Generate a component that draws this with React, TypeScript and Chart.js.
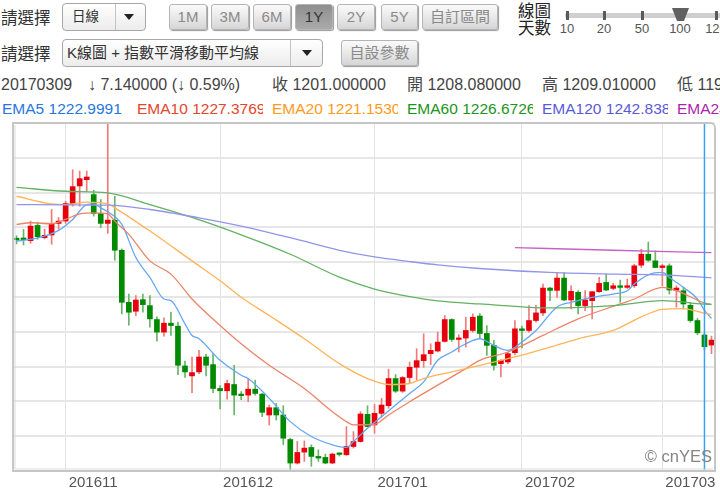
import React, { useEffect, useRef } from 'react';
import { Chart, registerables } from 'chart.js';
Chart.register(...registerables);

const FONT = '"Liberation Sans", Arial, "Noto Sans CJK TC", sans-serif';

// ---- categories (trading days) ----
const OCT_DAYS = ['21', '24', '25', '26', '27', '28', '31'];
const NOV_DAYS = ['01', '02', '03', '04', '07', '08', '09', '10', '11', '14', '15', '16', '17', '18', '21', '22', '23', '24', '25', '28', '29', '30'];
const DEC_DAYS = ['01', '02', '05', '06', '07', '08', '09', '12', '13', '14', '15', '16', '19', '20', '21', '22', '23', '26', '27', '28', '29', '30'];
const JAN_DAYS = ['03', '04', '05', '06', '09', '10', '11', '12', '13', '16', '17', '18', '19', '20', '23', '24', '25', '26', '27', '30', '31'];
const FEB_DAYS = ['01', '02', '03', '06', '07', '08', '09', '10', '13', '14', '15', '16', '17', '20', '21', '22', '23', '24', '27', '28'];
const MAR_DAYS = ['01', '02', '03', '06', '07', '08', '09', '10'];
const DATES = [
  ...OCT_DAYS.map((d) => '201610' + d),
  ...NOV_DAYS.map((d) => '201611' + d),
  ...DEC_DAYS.map((d) => '201612' + d),
  ...JAN_DAYS.map((d) => '201701' + d),
  ...FEB_DAYS.map((d) => '201702' + d),
  ...MAR_DAYS.map((d) => '201703' + d),
];
const MONTH_TICKS = [7, 29, 51, 72, 92];
const CROSS_IDX = 98;
const Y_MIN = 1126;
const Y_MAX = 1336;
const Y_GRID = [1126, 1147, 1168, 1189, 1210, 1231, 1252, 1273, 1294, 1315, 1336];

// ---- candles ----
const OPEN = [
  1266, 1266.6, 1265, 1274.2, 1266.8, 1268.4, 1275.4, 1276.8, 1287.4, 1298,
  1301.8, 1292.8, 1281.4, 1275.4, 1277.4, 1259.2, 1227.8, 1222.4, 1229.4, 1225.8,
  1217.4, 1209.8, 1215.2, 1213.4, 1189.4, 1183.4, 1185.8, 1194.8, 1190.2, 1175.8,
  1174.4, 1178.2, 1172, 1171.8, 1175.4, 1172.4, 1159.8, 1164.2, 1159.8, 1145,
  1130.8, 1137.4, 1140.2, 1134.8, 1134.2, 1130.8, 1136.4, 1135.8, 1140.8, 1143.8,
  1160.2, 1153.8, 1160.8, 1165.4, 1181.8, 1174.2, 1182.4, 1188.6, 1192.6, 1196.8,
  1198.4, 1204.2, 1217.4, 1205.4, 1206.2, 1210.8, 1219.5, 1209, 1201.8, 1190.8,
  1191.8, 1197.4, 1211.8, 1210.8, 1216.8, 1221.4, 1236.4, 1235, 1242.4, 1229.2,
  1233.8, 1225.8, 1228.8, 1234.2, 1239.8, 1236.2, 1237.8, 1236.8, 1237.8, 1250.2,
  1256.8, 1252.8, 1248.8, 1249.8, 1235, 1234.8, 1226, 1216.8, 1208.08, 1202,
];
const HIGH = [
  1268, 1271.8, 1276.8, 1276.2, 1272, 1283.8, 1279, 1288.8, 1307.8, 1307,
  1307, 1295.4, 1289.8, 1340, 1291.8, 1260, 1232.8, 1231.8, 1232.8, 1231.8,
  1219, 1218.4, 1221.8, 1215.8, 1192.4, 1194.8, 1198.8, 1196.4, 1196.8, 1177.6,
  1180.8, 1189.8, 1174, 1181.8, 1180.8, 1172.8, 1165.8, 1166.8, 1165.4, 1145.8,
  1143.8, 1144.2, 1141.8, 1138.8, 1136.2, 1136.8, 1137, 1152.8, 1149.8, 1161.8,
  1165.4, 1166.2, 1169.8, 1187.4, 1184.2, 1183, 1191.8, 1199.8, 1208.8, 1202.8,
  1209.8, 1219.8, 1217.8, 1208.2, 1218.8, 1220.8, 1221, 1213.8, 1204.8, 1193.2,
  1197.8, 1216.8, 1213.4, 1225.8, 1226, 1238.8, 1236.8, 1245.8, 1245.8, 1237.8,
  1234.8, 1234.8, 1234.2, 1242.8, 1244.8, 1239.2, 1241.2, 1241.8, 1250.8, 1259.8,
  1264.2, 1258.8, 1250.8, 1251, 1237.8, 1236.8, 1227.8, 1218.2, 1209.01, 1207.4,
];
const LOW = [
  1263, 1262.4, 1263.4, 1265.8, 1266, 1262.8, 1271.8, 1275.4, 1285.8, 1285.8,
  1294.8, 1279.8, 1272.8, 1269.4, 1253.2, 1220.8, 1214, 1219.8, 1221.8, 1212.8,
  1204.4, 1207.4, 1207.8, 1184.2, 1182.4, 1173.2, 1184.8, 1183.4, 1173.2, 1163.4,
  1169.4, 1159.8, 1169, 1167.8, 1171.8, 1158.8, 1153.8, 1156.8, 1141.8, 1125.8,
  1130.2, 1131.8, 1128.8, 1131.8, 1130.4, 1130.4, 1135, 1135.4, 1139.8, 1143.4,
  1152.8, 1148.8, 1158.4, 1163.8, 1173.4, 1173.4, 1178.8, 1180.8, 1188.6, 1190.2,
  1197.8, 1203.8, 1204.2, 1197.8, 1200.8, 1209.8, 1206, 1195.8, 1186.8, 1182.8,
  1190.8, 1196, 1200.2, 1209.8, 1215.8, 1219.8, 1228.8, 1230.8, 1228.8, 1223.8,
  1220.8, 1222.8, 1217.8, 1233.8, 1234.8, 1235.4, 1227.8, 1236.2, 1236.8, 1248.8,
  1252.4, 1248.8, 1237.8, 1232.8, 1224.8, 1223.8, 1215.8, 1208.2, 1199, 1196.8,
];
const CLOSE = [
  1265.6, 1265.6, 1273.8, 1267.4, 1268.2, 1275.4, 1276.8, 1287.4, 1297.6, 1302.4,
  1303.4, 1281.4, 1275.4, 1277.4, 1259.2, 1227.8, 1221.8, 1229.2, 1226.4, 1217.8,
  1209.8, 1215.2, 1213.8, 1189.8, 1185.8, 1185.4, 1194.8, 1189.8, 1175.8, 1174.4,
  1178.8, 1171.8, 1171.5, 1175.4, 1172.8, 1161.4, 1164.2, 1159.8, 1145.8, 1130.8,
  1137.2, 1139.8, 1134.8, 1133.8, 1130.8, 1136.2, 1136, 1140.8, 1143.8, 1160.4,
  1152.8, 1160.8, 1165.8, 1181.8, 1174.2, 1182.4, 1188.6, 1192.6, 1196.2, 1198.8,
  1203.8, 1217.4, 1205.4, 1206.2, 1210.8, 1218.8, 1209, 1201.8, 1189.8, 1192.8,
  1196.8, 1211.8, 1210.8, 1216.8, 1221.4, 1236.4, 1235, 1242.4, 1229.2, 1234.4,
  1225.8, 1229.2, 1234.2, 1239.2, 1235.2, 1237.8, 1236.8, 1237.8, 1249.8, 1256.8,
  1253.2, 1248.8, 1249.8, 1235.2, 1236.4, 1226.8, 1216.8, 1209.4, 1201, 1205,
];

// ---- EMA lines: [day index, value] ----
const EMA5_PTS = [
  [0, 1264.8], [2, 1265.8], [4, 1267.8], [6, 1271.2], [8, 1277.8], [10, 1286.8], [11, 1287.2], [12, 1284.8],
  [13, 1282.4], [15, 1274.8], [17, 1254.8], [19, 1242.8], [21, 1229.8], [22, 1228.8], [24, 1214.8], [25, 1207.8],
  [26, 1205.8], [29, 1192.8], [32, 1183.8], [33, 1181.8], [36, 1169.8], [39, 1155.8], [42, 1146.8], [45, 1141.8],
  [47, 1140.2], [48, 1143.8], [50, 1151.8], [52, 1158.8], [54, 1165.8], [56, 1172.8], [58, 1179.8], [60, 1192.8],
  [62, 1197.8], [64, 1202.8], [66, 1205.8], [68, 1201.8], [70, 1198.8], [72, 1203.8], [74, 1210.8], [77, 1225],
  [79, 1227.8], [82, 1230.8], [85, 1232.8], [87, 1234.8], [88, 1238.8], [90, 1244.4], [92, 1245.8], [93, 1242.8],
  [95, 1236.8], [97, 1229.8], [98, 1223], [99, 1218],
];
const EMA10_PTS = [
  [0, 1274.8], [2, 1275.8], [5, 1275.2], [7, 1277.8], [9, 1281.2], [11, 1281.8], [13, 1281.2], [14, 1276.8],
  [16, 1268.8], [19, 1252.8], [22, 1244.8], [25, 1229.8], [29, 1213.8], [32, 1202.8], [36, 1189.8], [41, 1175.8],
  [45, 1161.8], [47, 1155.8], [48, 1153.8], [51, 1154.2], [53, 1159.8], [56, 1167.8], [60, 1177.8], [64, 1187.8],
  [66, 1192.8], [70, 1197.8], [75, 1207.8], [80, 1217.8], [86, 1226.8], [88, 1229.8], [92, 1236.8], [94, 1234.8],
  [98, 1227.4], [99, 1226.5],
];
const EMA20_PTS = [
  [0, 1291.8], [5, 1287.2], [7, 1286.8], [10, 1288.2], [13, 1287.2], [14, 1284.8], [19, 1270.8], [25, 1252.8],
  [29, 1240.8], [32, 1230.8], [36, 1219.8], [41, 1205.8], [46, 1190.8], [50, 1181.8], [53, 1178.2], [56, 1178.8],
  [58, 1181.8], [62, 1185.8], [66, 1189.8], [71, 1194.8], [76, 1200.8], [80, 1205.8], [85, 1210.8], [89, 1219],
  [92, 1223.5], [95, 1224], [98, 1221.15], [99, 1220.5],
];
const EMA60_PTS = [
  [0, 1297.2], [7, 1294.8], [13, 1293.8], [19, 1286.8], [25, 1279], [32, 1268.5], [39, 1256.8], [46, 1243],
  [51, 1235.8], [56, 1231.2], [60, 1228.6], [66, 1226.8], [76, 1224.4], [85, 1225.8], [92, 1228.8], [98, 1226.67],
  [99, 1226.6],
];
const EMA120_PTS = [
  [0, 1286.8], [13, 1286.4], [19, 1283.8], [26, 1278.8], [32, 1273.8], [39, 1266.8], [46, 1259.2], [51, 1255.2],
  [56, 1252.4], [60, 1250.4], [66, 1248.2], [76, 1245.8], [85, 1244.8], [92, 1244.4], [98, 1242.84], [99, 1242.6],
];
const EMA240_PTS = [[71, 1260.8], [85, 1259.2], [99, 1257.8]];

// ---- header texts ----
const INFO_ITEMS = [
  { x: 1, text: '20170309' },
  { x: 88, text: '↓ 7.140000 (↓ 0.59%)' },
  { x: 272, text: '收 1201.000000' },
  { x: 407, text: '開 1208.080000' },
  { x: 542, text: '高 1209.010000' },
  { x: 677, text: '低 1198.650000' },
];
const LEGEND_ITEMS = [
  { x: 2, text: 'EMA5 1222.9991', color: '#2777e0' },
  { x: 137, text: 'EMA10 1227.3769', color: '#e5452c' },
  { x: 272, text: 'EMA20 1221.1530', color: '#ff9a1a' },
  { x: 407, text: 'EMA60 1226.6726', color: '#1c9420' },
  { x: 542, text: 'EMA120 1242.8384', color: '#5a5ad8' },
  { x: 677, text: 'EMA240 1257.8812', color: '#ae1fae' },
];
const PERIOD_BUTTONS = [
  { x: 169, w: 38, label: '1M' },
  { x: 211, w: 38, label: '3M' },
  { x: 253, w: 38, label: '6M' },
  { x: 295, w: 38, label: '1Y', active: true },
  { x: 337, w: 38, label: '2Y' },
  { x: 381, w: 37, label: '5Y' },
  { x: 422, w: 76, label: '自訂區間' },
];
const SLIDER_TICKS = [
  { x: 567, label: '10' },
  { x: 604, label: '20' },
  { x: 642, label: '50' },
  { x: 680, label: '100' },
  { x: 716, label: '120' },
];

const UP = '#e8000c';
const DOWN = '#008a00';
const UP_WICK = '#f07a7a';
const DOWN_WICK = '#68b468';

const pts = (arr: number[][]) => arr.map(([i, v]) => ({ x: DATES[i], y: v }));

const Arrow = ({ x, y }: { x: number; y: number }) => (
  <div
    style={{
      position: 'absolute', left: x - 5, top: y - 3, width: 0, height: 0,
      borderLeft: '5px solid transparent', borderRight: '5px solid transparent', borderTop: '6px solid #222',
    }}
  />
);

const Btn = ({ x, y, w, h, label, active }: any) => (
  <div
    style={{
      position: 'absolute', left: x, top: y, width: w, height: h, boxSizing: 'border-box',
      border: '1px solid #b4b4b4', borderRadius: 3,
      background: active ? 'linear-gradient(#8f8f8f, #aaaaaa)' : 'linear-gradient(#fbfbfb, #d6d6d6)',
      boxShadow: '1px 1px 1px #9a9a9a', color: active ? '#333' : '#8a8a8a',
      fontSize: 15, lineHeight: h - 2 + 'px', textAlign: 'center', whiteSpace: 'nowrap',
    }}
  >
    {label}
  </div>
);

const framePlugin = {
  id: 'frame',
  afterDraw(chart: any) {
    const { ctx, chartArea } = chart;
    const { left, top, right, bottom } = chartArea;
    ctx.save();
    // crosshair
    const x = chart.scales.x.getPixelForValue(CROSS_IDX);
    ctx.strokeStyle = '#3aa2f2';
    ctx.lineWidth = 1.5;
    ctx.beginPath();
    ctx.moveTo(x, top);
    ctx.lineTo(x, bottom);
    ctx.stroke();
    // watermark
    ctx.fillStyle = '#858585';
    ctx.font = '16.5px ' + FONT;
    ctx.textAlign = 'right';
    ctx.textBaseline = 'alphabetic';
    ctx.fillText('© cnYES', right - 3, bottom - 9);
    // frame
    ctx.strokeStyle = '#c6c6c6';
    ctx.lineWidth = 2;
    ctx.beginPath();
    ctx.roundRect(left, top, right - left, bottom - top, [0, 5, 0, 0]);
    ctx.stroke();
    ctx.strokeStyle = '#dcdcdc';
    ctx.lineWidth = 1;
    ctx.beginPath();
    ctx.moveTo(left + 2, top + 2);
    ctx.lineTo(left + 2, bottom - 2);
    ctx.lineTo(right - 2, bottom - 2);
    ctx.stroke();
    ctx.restore();
  },
};

export default function App() {
  const ref = useRef<HTMLCanvasElement>(null);
  useEffect(() => {
    document.body.style.margin = '0';
    const isUp = DATES.map((_, i) => CLOSE[i] >= OPEN[i]);
    const line = (data: number[][], color: string) =>
      ({ type: 'line', data: pts(data), borderColor: color, borderWidth: 1.3, pointRadius: 0, cubicInterpolationMode: 'monotone', order: 1 }) as any;
    const chart = new Chart(ref.current as HTMLCanvasElement, {
      type: 'bar',
      data: {
        labels: DATES,
        datasets: [
          line(EMA240_PTS, '#c662c6'),
          line(EMA120_PTS, '#9393ec'),
          line(EMA60_PTS, '#62b262'),
          line(EMA20_PTS, '#ffb457'),
          line(EMA10_PTS, '#ec8468'),
          line(EMA5_PTS, '#66a6f2'),
          {
            type: 'bar', data: DATES.map((_, i) => [OPEN[i], CLOSE[i]]),
            backgroundColor: isUp.map((u) => (u ? UP : DOWN)), barThickness: 5, minBarLength: 1.5,
            grouped: false, order: 2, clip: 0,
          } as any,
          {
            type: 'bar', data: DATES.map((_, i) => [LOW[i], HIGH[i]]),
            backgroundColor: isUp.map((u) => (u ? UP_WICK : DOWN_WICK)), barThickness: 1,
            grouped: false, order: 3, clip: 0,
          } as any,
        ],
      },
      options: {
        responsive: false,
        maintainAspectRatio: false,
        animation: false,
        devicePixelRatio: 1,
        events: [],
        layout: { padding: { left: 13, right: 5, top: 3, bottom: 0 } },
        plugins: { legend: { display: false }, tooltip: { enabled: false } },
        scales: {
          x: {
            type: 'category',
            offset: true,
            border: { display: false },
            grid: {
              offset: false,
              drawTicks: false,
              lineWidth: 1,
              color: (c: any) => (MONTH_TICKS.includes(c.index) ? '#e3e3e3' : 'rgba(0,0,0,0)'),
            },
            ticks: {
              autoSkip: false,
              maxRotation: 0,
              minRotation: 0,
              align: 'start',
              labelOffset: 3,
              padding: 3,
              color: '#555',
              font: { size: 15, family: FONT },
              callback: (_v: any, i: number) => (MONTH_TICKS.includes(i) ? DATES[i].slice(0, 6) : ''),
            },
          },
          y: {
            type: 'linear',
            position: 'right',
            min: Y_MIN,
            max: Y_MAX,
            afterBuildTicks: (s: any) => {
              s.ticks = Y_GRID.map((v) => ({ value: v }));
            },
            border: { display: false },
            grid: { color: '#e6e6e6', lineWidth: 2, drawTicks: false },
            ticks: { display: false },
          },
        },
      } as any,
      plugins: [framePlugin],
    });
    return () => chart.destroy();
  }, []);

  return (
    <div style={{ position: 'fixed', left: 0, top: 0, width: 720, height: 492, overflow: 'hidden', background: '#fff', fontFamily: FONT }}>
      {/* row 1 */}
      <div style={{ position: 'absolute', left: 1, top: 8, fontSize: 16.5, color: '#333', lineHeight: '20px' }}>請選擇</div>
      <div style={{ position: 'absolute', left: 62, top: 3, width: 84, height: 28, boxSizing: 'border-box', border: '1px solid #a8a8a8', borderRadius: 4, background: 'linear-gradient(#ffffff, #ececec)' }}>
        <div style={{ position: 'absolute', left: 9, top: 5, fontSize: 13.5, color: '#333', lineHeight: '16px' }}>日線</div>
        <div style={{ position: 'absolute', left: 52, top: 0, width: 1, height: 26, background: '#c4c4c4' }} />
      </div>
      <Arrow x={129} y={17} />
      {PERIOD_BUTTONS.map((b) => (
        <Btn key={b.label} x={b.x} y={4} w={b.w} h={26} label={b.label} active={b.active} />
      ))}
      <div style={{ position: 'absolute', left: 518, top: 3, fontSize: 16.5, color: '#222', lineHeight: '17px' }}>
        線圖<br />天數
      </div>
      <div style={{ position: 'absolute', left: 565, top: 13, width: 160, height: 5, background: '#cfcfcf', borderRadius: 2 }} />
      {SLIDER_TICKS.map((t) => (
        <React.Fragment key={t.label}>
          <div style={{ position: 'absolute', left: t.x - 1.5, top: 11, width: 3, height: 9, background: '#5a5a5a' }} />
          <div style={{ position: 'absolute', left: t.x - 20, top: 21, width: 40, textAlign: 'center', fontSize: 13, color: '#555', fontFamily: '"Liberation Sans Narrow", ' + FONT, lineHeight: '16px' }}>
            {t.label}
          </div>
        </React.Fragment>
      ))}
      <svg style={{ position: 'absolute', left: 672, top: 8 }} width={17} height={13}>
        <polygon points="0,0 17,0 12,13 5,13" fill="#606060" />
      </svg>

      {/* row 2 */}
      <div style={{ position: 'absolute', left: 1, top: 44, fontSize: 16.5, color: '#333', lineHeight: '20px' }}>請選擇</div>
      <div style={{ position: 'absolute', left: 62, top: 39, width: 261, height: 28, boxSizing: 'border-box', border: '1px solid #a8a8a8', borderRadius: 4, background: 'linear-gradient(#ffffff, #ececec)' }}>
        <div style={{ position: 'absolute', left: 4, top: 4, fontSize: 15, color: '#333', lineHeight: '18px', whiteSpace: 'pre' }}>K線圖 + 指數平滑移動平均線</div>
        <div style={{ position: 'absolute', left: 227, top: 0, width: 1, height: 26, background: '#c4c4c4' }} />
      </div>
      <Arrow x={307} y={53} />
      <Btn x={341} y={40} w={77} h={26} label="自設參數" />

      {/* row 3: info */}
      {INFO_ITEMS.map((it) => (
        <div key={it.x} style={{ position: 'absolute', left: it.x, top: 76, fontSize: 16, color: '#444', whiteSpace: 'nowrap', lineHeight: '18px' }}>
          {it.text}
        </div>
      ))}

      {/* row 4: EMA legend */}
      {LEGEND_ITEMS.map((it) => (
        <div key={it.x} style={{ position: 'absolute', left: it.x, top: 100, width: 126, overflow: 'hidden', fontSize: 15.5, color: it.color, whiteSpace: 'nowrap', lineHeight: '18px' }}>
          {it.text}
        </div>
      ))}

      <canvas ref={ref} width={720} height={375} style={{ position: 'absolute', left: 0, top: 120, width: 720, height: 375 }} />
    </div>
  );
}
